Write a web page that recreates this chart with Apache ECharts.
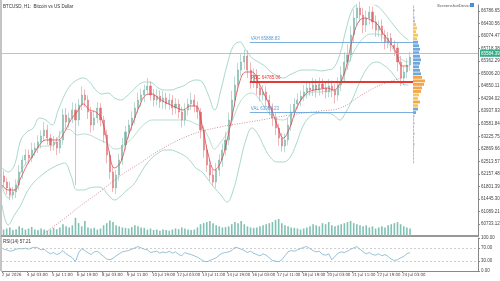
<!DOCTYPE html>
<html>
<head>
<meta charset="utf-8">
<script src="https://cdn.jsdelivr.net/npm/echarts@6/dist/echarts.min.js"></script>
<style>html,body{margin:0;padding:0;background:#fff}#main{width:500px;height:281px}</style>
</head>
<body>
<div id="main"></div>
<script>
// BTCUSD H1 - candles grouped by 4 hours, hour 0 = 2 Jul 19:00
var firstOpen = 62100;
var closes = [61927,61756,61557,61642,61841,62211,62552,62694,62609,62836,
  62893,63063,63234,63404,63177,62978,63063,62893,63120,63831,
  63632,63745,63973,63689,64115,64399,64257,63916,63546,63745,
  64030,63689,63262,62694,62211,61756,62125,62552,62978,63348,
  63546,63745,64030,64257,64399,64541,64655,64399,64257,64371,
  64200,64314,64143,64257,64030,64143,63916,63689,63973,64143,
  64257,64086,63916,63404,62836,62410,62125,61927,62268,62552,
  62836,63120,63689,64257,64683,65110,65337,65507,65110,64769,
  64967,64598,64399,64484,64257,64030,63745,63461,63177,62950,
  63120,63546,63916,64143,64257,64371,64484,64598,64541,64683,
  64541,64712,64598,64484,64655,64541,64399,64683,64967,65337,
  65536,66104,66587,66872,66673,66388,66587,66758,66474,66246,
  66360,66104,65905,66019,65820,65735,65337,64882,65053,65252,
  65479];
var wickUp = [150,120,180,140,160,200,130,170,150,210,
  140,190,160,230,150,120,170,140,260,180,
  200,150,220,190,170,240,160,130,150,200,
  170,140,120,150,110,160,140,180,200,170,
  150,190,160,210,180,150,230,140,170,190,
  160,200,150,180,140,170,130,150,190,160,
  210,150,130,110,120,140,150,180,200,170,
  190,230,210,260,240,200,220,180,160,210,
  190,170,150,200,160,140,130,150,120,140,
  180,200,220,170,190,150,200,180,160,210,
  170,190,150,180,200,160,170,220,250,280,
  300,260,240,110,180,200,210,170,150,190,
  160,180,150,170,140,130,150,170,160,180,
  150];
var wickDown = [160,180,150,130,170,140,190,150,160,120,
  170,140,180,150,190,170,160,200,150,140,
  180,160,150,1850,170,150,190,200,210,160,
  150,180,220,240,200,110,170,160,140,150,
  180,160,170,150,190,200,140,160,180,150,
  170,190,150,160,200,170,180,210,160,150,
  170,180,200,240,220,190,160,120,170,180,
  200,160,150,170,190,200,180,210,230,190,
  170,200,180,160,190,210,230,200,220,160,
  180,150,170,160,140,180,150,190,160,170,
  210,160,180,190,150,200,240,160,170,190,
  210,180,200,220,190,230,200,180,210,190,
  200,180,210,170,190,220,260,230,200,180,
  160];
var volumes = [30,35,40,28,32,45,38,30,35,42,
  30,28,35,30,25,30,38,32,40,55,
  45,40,50,85,60,45,70,40,35,38,
  30,35,50,60,72,65,50,45,40,38,
  35,42,50,45,40,38,30,35,28,30,
  25,30,28,25,30,35,32,40,35,30,
  28,30,40,55,60,65,70,60,50,45,
  40,42,45,55,65,60,70,55,45,40,
  38,40,45,50,55,60,65,75,80,60,
  50,45,40,38,35,30,35,40,45,55,
  50,45,60,55,65,50,45,50,55,60,
  65,70,60,55,50,45,50,40,45,35,
  40,45,40,50,55,60,65,55,45,40,
  35];
var rsi = [66,64,60,62,66,68,67,69,66,70,
  72,70,64,66,58,52,56,50,54,62,
  52,46,40,28,55,68,62,55,50,58,
  60,52,44,36,34,38,46,52,58,60,
  62,66,70,74,70,66,64,56,58,60,
  54,58,55,60,54,58,50,46,56,52,
  50,46,42,36,30,28,32,36,40,48,
  54,56,58,62,72,70,66,62,56,60,
  54,50,46,52,48,40,32,30,28,34,
  46,58,62,60,64,68,72,74,68,62,
  58,60,50,48,52,34,44,54,58,56,
  60,66,70,74,66,58,52,56,50,48,
  52,46,50,44,36,32,34,40,44,52,
  56];

// indicator lines sampled every 8 hours
var bbUpper = [62325,62211,62410,63121,63348,63462,63746,63689,63547,63973,
  64399,64684,64826,64883,64769,64541,64428,64456,64314,64257,
  64371,64541,64712,64769,64741,64598,64541,64541,64598,64655,
  64769,64826,64769,64399,63973,64541,65252,65792,65906,65678,
  65451,65337,65224,65053,64939,64883,64968,65053,65110,65110,
  65110,65082,65110,65167,65536,66247,66815,67014,67043,66986,
  66929,66758,66531,66304,66105,65963];
var bbLower = [61273,60705,60989,61273,61643,61898,62069,62211,62325,62410,
  62467,62126,61699,61699,61756,61785,61756,61557,61415,61529,
  61699,61842,62126,62410,62609,62751,62836,62836,62780,62694,
  62552,62325,62211,61984,61756,61557,61358,61699,62410,63121,
  63462,63263,62893,62609,62495,62495,62609,62978,63462,63746,
  63860,63888,63888,63831,63689,63916,64257,64684,65053,65280,
  65337,65252,65110,64883,64712,64684];
var bbMiddle = [61813,61472,61699,62211,62495,62694,62922,62950,62950,63206,
  63433,63405,63263,63291,63263,63177,63092,63007,62865,62893,
  63035,63206,63433,63604,63689,63689,63689,63689,63689,63689,
  63661,63575,63490,63206,62865,63064,63320,63746,64172,64399,
  64456,64314,64058,63831,63717,63689,63803,64030,64286,64428,
  64485,64485,64513,64513,64627,65082,65536,65849,66048,66133,
  66133,66019,65821,65593,65394,65337];
var maFast = [61842,61699,61699,62041,62410,62694,62978,63121,63121,63121,
  63348,63689,63916,64144,63973,63916,63689,62893,62325,62495,
  63121,63632,64087,64399,64428,64314,64200,64115,64030,63973,
  64087,64087,63547,62694,62268,62495,63121,63973,64769,65053,
  65053,64769,64399,64030,63547,63177,63462,63973,64314,64485,
  64541,64570,64598,64541,64712,65167,65963,66474,66587,66531,
  66417,66133,65906,65621,65224,65224];

// slow dotted average
var slowHours = [48,74,100,125,151,177,202,241,279,317,369,407,433,458,484,516];
var slowPrices = [60392,60790,61244,61643,62098,62467,62836,63263,63490,63632,63831,63945,64030,64371,64684,64911];

// volume profile (right side)
var profileTop = 66900, profileStep = 100;
var profileVolumes = [1,1.5,1,1.5,2,3,4,3,5,4,
  5,6,7,6,7,8,7,6,7,8,
  9,12,11,9,8,6,5,7,5,5,
  3,1.5,1,1.5,1,1,1.5,1,1,1.5,
  1,1,1,1,1];
var profileKinds = ['g','g','g','g','g','y','y','y','y','y',
  'b','b','b','b','b','b','b','b','b','b',
  'o','o','o','o','o','y','y','o','y','b',
  'b','g','g','g','g','g','g','g','g','g',
  'g','g','g','g','g'];
var profileColors = {g:'#bdb8d6', y:'#f3c95e', o:'#f2a54a', b:'#6fa8dc'};

var bidPrice = 65584.39;
var pocPrice = 64785.06, vahPrice = 65888.83, valPrice = 63908.23;
var levelStartHour = 317, levelEndHour = 526;

var priceTicks = [60733.12,61089.21,61445.30,61801.39,62157.48,62513.57,62869.66,63225.75,63581.84,
  63937.93,64294.02,64650.11,65006.20,65362.29,65718.38,66074.47,66430.56,66786.65];
var rsiTicks = [0,30,70,100];
var xTickHours = [0,32,64,96,128,160,192,224,256,288,320,352,384,416,448,480,512];
var xTickLabels = ['2 Jul 2026','4 Jul 03:00','5 Jul 11:00','6 Jul 19:00','8 Jul 03:00','9 Jul 11:00',
  '10 Jul 19:00','12 Jul 03:00','13 Jul 11:00','14 Jul 19:00','16 Jul 03:00','17 Jul 11:00',
  '18 Jul 19:00','20 Jul 03:00','21 Jul 11:00','22 Jul 19:00','24 Jul 03:00'];

var priceMin = 60392, priceMax = 66957, hourMax = 609;

var myChart = echarts.init(document.getElementById('main'));

var candleData = closes.map(function (c, i) {
    var o = i === 0 ? firstOpen : closes[i - 1];
    return [i * 4 + 2, o, c, Math.min(o, c) - wickDown[i], Math.max(o, c) + wickUp[i]];
});
var volData = volumes.map(function (v, i) { return [i * 4 + 2, v]; });
var rsiData = rsi.map(function (v, i) { return [i * 4 + 2, v]; });
function every8(arr) { return arr.map(function (v, k) { return [k * 8, v]; }); }
var slowData = slowHours.map(function (h, i) { return [h, slowPrices[i]]; });
var profileData = profileVolumes.map(function (v, i) { return [v, profileTop - i * profileStep, profileKinds[i]]; });

var teal = '#84c7b8';
var narrow = 'Liberation Sans Narrow, DejaVu Sans Condensed, Liberation Sans';

function levelLine(price, name, color, width, endHour) {
    return [{coord: [levelStartHour, price], lineStyle: {color: color, width: width, type: 'solid'},
             label: {show: true, position: 'insideStartTop', distance: 1, formatter: name + ' ' + price.toFixed(2),
                     color: color, fontSize: 4.5, fontFamily: 'Liberation Sans'}},
            {coord: [endHour, price]}];
}

var option = {
    animation: false,
    backgroundColor: '#ffffff',
    textStyle: {fontFamily: 'Liberation Sans'},
    title: [
        {text: 'BTCUSD, H1:  Bitcoin vs US Dollar', left: 3, top: 4, padding: 0, textStyle: {fontSize: 4.5, fontWeight: 'normal', color: '#333'}},
        {text: 'RSI(14) 57.21', left: 3, top: 239, padding: 0, textStyle: {fontSize: 4.5, fontWeight: 'normal', color: '#333'}}
    ],
    graphic: [
        {type: 'rect', left: 0, top: 0, shape: {width: 2, height: 271}, style: {fill: '#c4c4c4'}},
        {type: 'text', left: 437, top: 4, style: {text: 'ScreenshotDevice', fontSize: 4.3, fill: '#555', fontFamily: 'Liberation Sans'}},
        {type: 'rect', left: 470, top: 3, shape: {width: 4, height: 4}, style: {fill: '#4a8fd6'}}
    ],
    grid: [
        {left: 2, top: 5, width: 476, height: 231, outerBoundsMode: 'none'},
        {left: 2, top: 206, width: 476, height: 30, outerBoundsMode: 'none'},
        {left: 413, top: 5, width: 60, height: 231, outerBoundsMode: 'none'},
        {left: 2, top: 238, width: 476, height: 33, outerBoundsMode: 'none'}
    ],
    xAxis: [
        {gridIndex: 0, type: 'value', min: 0, max: hourMax, axisLine: {show: true, onZero: false, lineStyle: {color: '#777', width: 1.5}},
         axisTick: {show: false}, axisLabel: {show: false}, splitLine: {show: false}},
        {gridIndex: 1, type: 'value', min: 0, max: hourMax, show: false},
        {gridIndex: 2, type: 'value', min: 0, max: 60, show: false},
        {gridIndex: 3, type: 'value', min: 0, max: hourMax, splitLine: {show: false},
         axisLine: {show: true, onZero: false, lineStyle: {color: '#888', width: 1}},
         axisTick: {show: true, customValues: xTickHours, length: 2, lineStyle: {color: '#888'}},
         axisLabel: {customValues: xTickHours, align: 'left', margin: 2, fontSize: 4.3, color: '#444', fontFamily: narrow,
                     formatter: function (v) { var k = xTickHours.indexOf(v); return k >= 0 ? xTickLabels[k] : ''; }}}
    ],
    yAxis: [
        {gridIndex: 0, type: 'value', position: 'right', min: priceMin, max: priceMax, splitLine: {show: false},
         axisLine: {show: true, onZero: false, lineStyle: {color: '#888', width: 1}},
         axisTick: {show: true, customValues: priceTicks, length: 2, lineStyle: {color: '#888'}},
         axisLabel: {customValues: priceTicks, margin: 3, fontSize: 4.5, color: '#444',
                     formatter: function (v) { return v.toFixed(2); }}},
        {gridIndex: 1, type: 'value', min: 0, max: 140, show: false},
        {gridIndex: 2, type: 'value', min: priceMin, max: priceMax, show: false},
        {gridIndex: 3, type: 'value', position: 'right', min: 0, max: 100, splitLine: {show: false},
         axisLine: {show: true, onZero: false, lineStyle: {color: '#888', width: 1}},
         axisTick: {show: true, customValues: rsiTicks, length: 2, lineStyle: {color: '#888'}},
         axisLabel: {customValues: rsiTicks, margin: 3, fontSize: 4.5, color: '#444',
                     formatter: function (v) { return v.toFixed(2); }}}
    ],
    series: [
        {name: 'volume', type: 'bar', xAxisIndex: 1, yAxisIndex: 1, data: volData, barWidth: 1.6,
         itemStyle: {color: '#7fc1b3'}, silent: true},
        {name: 'bbUpper', type: 'line', data: every8(bbUpper), showSymbol: false, smooth: 0.4,
         lineStyle: {color: teal, width: 0.7}},
        {name: 'bbLower', type: 'line', data: every8(bbLower), showSymbol: false, smooth: 0.4,
         lineStyle: {color: teal, width: 0.7}},
        {name: 'bbMiddle', type: 'line', data: every8(bbMiddle), showSymbol: false, smooth: 0.4,
         lineStyle: {color: teal, width: 0.6}},
        {name: 'slow', type: 'line', data: slowData, showSymbol: false, smooth: 0.4,
         lineStyle: {color: '#c27880', width: 0.8, type: [1, 1.5]}},
        {name: 'price', type: 'candlestick', data: candleData, encode: {x: 0, y: [1, 2, 3, 4]}, barWidth: 1.6,
         itemStyle: {color: '#78b3a6', color0: '#dd7077', borderColor: '#78b3a6', borderColor0: '#dd7077', borderWidth: 0.5},
         markLine: {symbol: 'none', silent: true, animation: false,
             data: [
                 {yAxis: bidPrice, lineStyle: {color: '#80c9b9', width: 0.8, type: 'solid'},
                  label: {show: true, position: 'end', distance: 2, formatter: bidPrice.toFixed(2),
                          backgroundColor: '#34ad86', color: '#fff', fontSize: 4.5, padding: [1, 1]}},
                 levelLine(vahPrice, 'VAH', '#5b9bd5', 0.8, levelEndHour),
                 levelLine(pocPrice, 'POC', '#e53935', 2, levelEndHour),
                 levelLine(valPrice, 'VAL', '#5b9bd5', 0.8, levelEndHour)
             ]}},
        {name: 'maFast', type: 'line', data: every8(maFast), showSymbol: false, smooth: 0.4,
         lineStyle: {color: '#d9474f', width: 0.8}},
        {name: 'profile', type: 'custom', xAxisIndex: 2, yAxisIndex: 2, data: profileData, silent: true,
         renderItem: function (params, api) {
             var p = api.value(1), v = api.value(0);
             var a = api.coord([0, p]), b = api.coord([v, p]);
             var h = api.size([0, profileStep])[1] * 0.8;
             return {type: 'rect', shape: {x: a[0], y: a[1] - h / 2, width: b[0] - a[0], height: h},
                     style: {fill: profileColors[profileKinds[params.dataIndex]]}};
         }},
        {name: 'rsi', type: 'line', xAxisIndex: 3, yAxisIndex: 3, data: rsiData, showSymbol: false,
         lineStyle: {color: '#6aa7c9', width: 0.7},
         markLine: {symbol: 'none', silent: true, label: {show: false},
             lineStyle: {color: '#b0b0b0', width: 0.6, type: [2, 2]},
             data: [{yAxis: 70}, {yAxis: 30}]}}
    ]
};
myChart.setOption(option);
</script>
</body>
</html>
